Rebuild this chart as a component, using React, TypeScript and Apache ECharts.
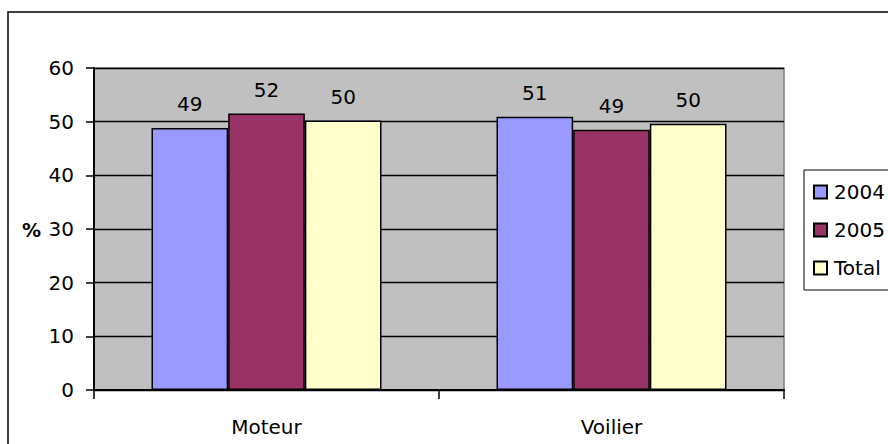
import React, { useEffect, useRef } from "react";
import * as echarts from "echarts";

const categories = ["Moteur", "Voilier"];
const seriesNames = ["2004", "2005", "Total"];
const values2004 = [48.8, 50.9];
const values2005 = [51.5, 48.5];
const valuesTotal = [50.2, 49.6];
const seriesColors = ["#9999ff", "#993366", "#ffffcc"];
const yTicks = { min: 0, max: 60, interval: 10 };

const FONT = "DejaVu Sans, Liberation Sans, Arial, sans-serif";

export default function App() {
  const ref = useRef<HTMLDivElement>(null);
  useEffect(() => {
    if (!ref.current) return;
    const chart = echarts.init(ref.current, undefined, { renderer: "svg" });
    const data = [values2004, values2005, valuesTotal];
    chart.setOption({
      animation: false,
      textStyle: { fontFamily: FONT },
      graphic: [
        {
          type: "rect",
          shape: { x: 8, y: 12, width: 960, height: 520 },
          style: { fill: "none", stroke: "#000", lineWidth: 1.5 },
          silent: true,
          z: -10,
        },
        {
          type: "text",
          x: 22,
          y: 230,
          style: {
            text: "%",
            font: "bold 19px " + FONT,
            fill: "#000",
            textVerticalAlign: "middle",
          },
        },
      ],
      legend: {
        orient: "vertical",
        left: 804,
        top: 170,
        padding: [12, 80, 12, 9],
        borderColor: "#000",
        borderWidth: 1,
        backgroundColor: "#fff",
        itemWidth: 13,
        itemHeight: 13,
        itemGap: 18,
        icon: "rect",
        textStyle: { fontSize: 20, color: "#000", fontFamily: FONT, padding: [0, 0, 0, 2] },
        data: seriesNames,
      },
      grid: {
        left: 94,
        right: 104,
        top: 68,
        bottom: 54,
        show: true,
        backgroundColor: "#c0c0c0",
        borderColor: "#808080",
        borderWidth: 1.5,
      },
      xAxis: {
        type: "category",
        data: categories,
        axisLine: { lineStyle: { color: "#000", width: 2 } },
        axisTick: { show: true, length: 9, lineStyle: { color: "#000", width: 1.5 } },
        axisLabel: { fontSize: 20, color: "#000", margin: 27, fontFamily: FONT },
      },
      yAxis: {
        type: "value",
        min: yTicks.min,
        max: yTicks.max,
        interval: yTicks.interval,
        axisLine: { show: true, lineStyle: { color: "#000", width: 2 } },
        axisTick: { show: true, length: 8, lineStyle: { color: "#000", width: 1.5 } },
        axisLabel: { fontSize: 20, color: "#000", margin: 20, fontFamily: FONT },
        splitLine: { show: true, lineStyle: { color: "#000", width: 1.3 } },
      },
      series: seriesNames.map((name, i) => ({
        name,
        type: "bar",
        data: data[i],
        barGap: "0%",
        barCategoryGap: "33.33%",
        itemStyle: { color: seriesColors[i], borderColor: "#000", borderWidth: 1.5 },
        label: {
          show: true,
          position: "top",
          distance: 14,
          fontSize: 20,
          color: "#000",
          fontFamily: FONT,
          formatter: (p: any) => String(Math.round(p.value)),
        },
      })),
    });
    return () => chart.dispose();
  }, []);
  return (
    <div
      ref={ref}
      style={{ position: "fixed", left: 0, top: 0, width: 888, height: 444, background: "#fff" }}
    />
  );
}
